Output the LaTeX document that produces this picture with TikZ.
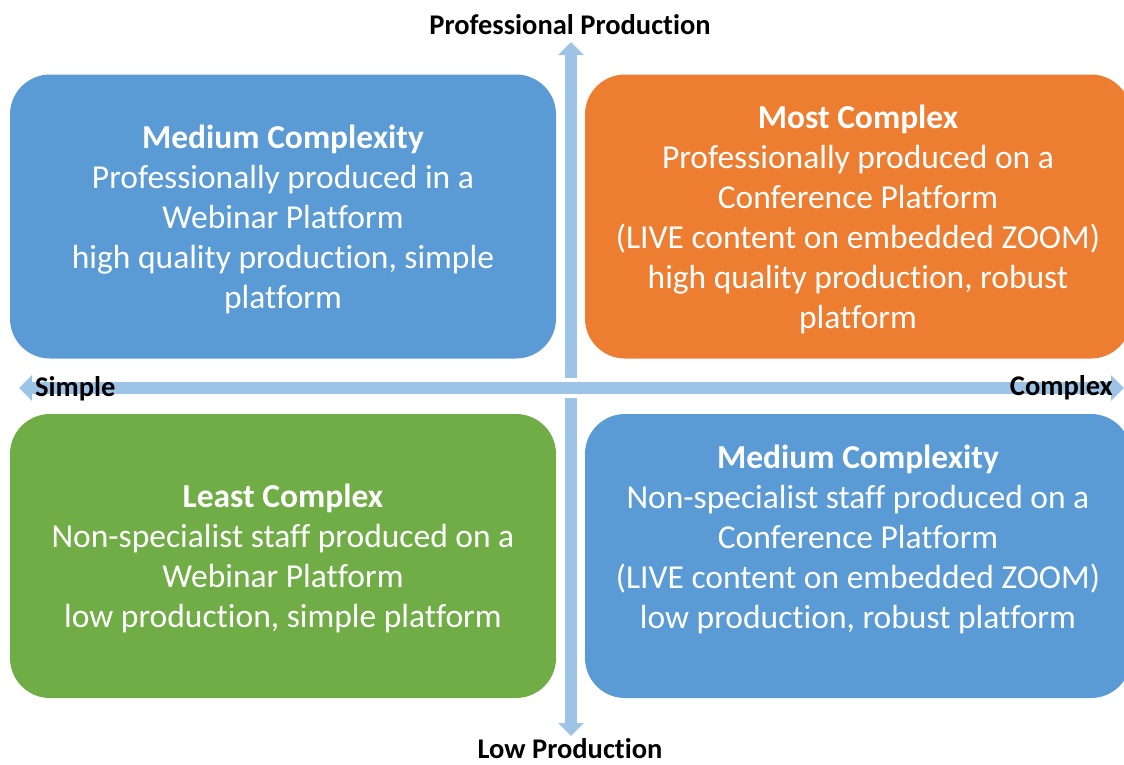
\documentclass[tikz,border=0pt]{standalone}
\usepackage{fontspec}
\setmainfont{Carlito}[Ligatures=NoCommon]
\usetikzlibrary{arrows.meta}
\definecolor{qblue}{HTML}{5B9BD5}
\definecolor{qorange}{HTML}{ED7D31}
\definecolor{qgreen}{HTML}{70AD47}
\definecolor{axisblue}{HTML}{9DC3E6}
\tikzset{
  quad/.style={rounded corners=40pt, minimum width=546pt, minimum height=284pt, inner sep=0pt},
  quadtext/.style={inner sep=0pt, text=white, align=center, font=\fontsize{33.5}{40}\selectfont},
  axisline/.style={draw=axisblue, line width=12pt,
    {Triangle[width=25pt,length=13pt]}-{Triangle[width=25pt,length=13pt]}},
  axlabel/.style={font=\fontsize{28.5}{32}\selectfont\bfseries, text=black, inner sep=0pt}
}
\begin{document}
\begin{tikzpicture}[x=1pt,y=-1pt]
\useasboundingbox (0,0) rectangle (1124,764);
\clip (0,0) rectangle (1124,764);
% quadrants
\node[quad, fill=qblue] (tl) at (283,216.5) {};
\node[quad, fill=qorange] (tr) at (858,216.5) {};
\node[quad, fill=qgreen] (bl) at (283,556) {};
\node[quad, fill=qblue] (br) at (858,556) {};
\node[quadtext] (tltext) at (283,219.5) {\textbf{Medium Complexity}\\Professionally produced in a\\Webinar Platform\\high quality production, simple\\platform};
\node[quadtext] (trtext) at (858,219.5) {\textbf{Most Complex}\\Professionally produced on a\\Conference Platform\\(LIVE content on embedded ZOOM)\\high quality production, robust\\platform};
\node[quadtext] (bltext) at (283,558) {\textbf{Least Complex}\\Non-specialist staff produced on a\\Webinar Platform\\low production, simple platform};
\node[quadtext] (brtext) at (858,539) {\textbf{Medium Complexity}\\Non-specialist staff produced on a\\Conference Platform\\(LIVE content on embedded ZOOM)\\low production, robust platform};
% axes
\coordinate (top) at (571,42);
\coordinate (bot) at (571,736);
\coordinate (lft) at (19,388);
\coordinate (rgt) at (1124,388);
\draw[axisline] (bot) -- (top);
\draw[white, line width=20pt] (lft) -- (rgt);
\draw[axisline] (lft) -- (rgt);
% labels
\node[axlabel] (prof) at (570,25) {Professional Production};
\node[axlabel] (low) at (570,749) {Low Production};
\node[axlabel, anchor=west] (simple) at (35,389) {Simple};
\node[axlabel, anchor=east] (complex) at (1113,388) {Complex};
\end{tikzpicture}
\end{document}
